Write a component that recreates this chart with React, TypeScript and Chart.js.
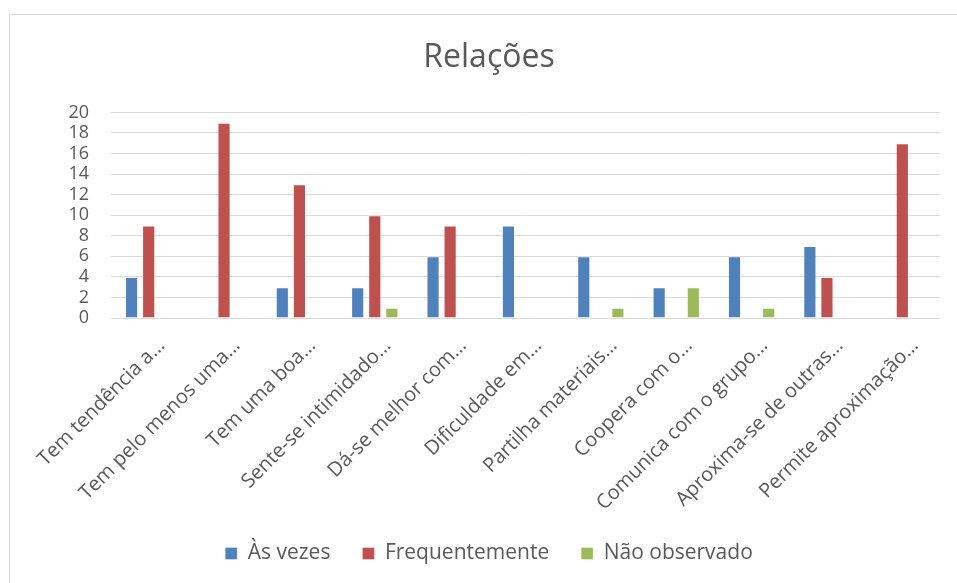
import React, { useEffect, useRef } from "react";
import { Chart, registerables } from "chart.js";

Chart.register(...registerables);

const categories = [
  "Tem tendência a…",
  "Tem pelo menos uma…",
  "Tem uma boa…",
  "Sente-se intimidado…",
  "Dá-se melhor com…",
  "Dificuldade em…",
  "Partilha materiais…",
  "Coopera com o…",
  "Comunica com o grupo…",
  "Aproxima-se de outras…",
  "Permite aproximação…",
];
const asVezes = [4, 0, 3, 3, 6, 9, 6, 3, 6, 7, 0];
const frequentemente = [9, 19, 13, 10, 9, 0, 0, 0, 0, 4, 17];
const naoObservado = [0, 0, 0, 1, 0, 0, 1, 3, 1, 0, 0];
const seriesNames = ["Às vezes", "Frequentemente", "Não observado"];
const titleText = "Relações";

const FONT = "'Open Sans', 'Noto Sans', sans-serif";
const GRAY = "#595959";

export default function App() {
  const ref = useRef<HTMLCanvasElement | null>(null);
  useEffect(() => {
    if (!ref.current) return;
    const chart = new Chart(ref.current, {
      type: "bar",
      data: {
        labels: categories,
        datasets: [
          { label: seriesNames[0], data: asVezes, backgroundColor: "#4F81BD", borderColor: "rgba(255,255,255,0.35)", borderWidth: 1 },
          { label: seriesNames[1], data: frequentemente, backgroundColor: "#C0504D", borderColor: "rgba(255,255,255,0.35)", borderWidth: 1 },
          { label: seriesNames[2], data: naoObservado, backgroundColor: "#9BBB59", borderColor: "rgba(255,255,255,0.35)", borderWidth: 1 },
        ],
      },
      options: {
        animation: false,
        responsive: false,
        maintainAspectRatio: false,
        layout: { padding: { left: 0, right: 0, top: 3, bottom: 9 } },
        datasets: { bar: { categoryPercentage: 0.68, barPercentage: 0.77 } },
        plugins: {
          title: {
            display: true,
            text: titleText,
            color: GRAY,
            font: { family: FONT, size: 32, weight: "normal" },
            padding: { top: 36, bottom: 35 },
          },
          legend: {
            position: "bottom",
            labels: {
              color: GRAY,
              font: { family: FONT, size: 21 },
              boxWidth: 12,
              boxHeight: 12,
              padding: 32,
            },
          },
          tooltip: { enabled: false },
        },
        scales: {
          x: {
            grid: { display: false },
            border: { display: false },
            ticks: {
              color: GRAY,
              font: { family: FONT, size: 20 },
              minRotation: 45,
              maxRotation: 45,
              autoSkip: false,
              padding: 8,
              labelOffset: 13,
            },
            afterFit: (s: any) => {
              s.height = 193;
              s.paddingLeft = 0;
              s.paddingRight = 38;
            },
          },
          y: {
            min: 0,
            max: 20,
            grid: { color: "#d9d9d9", lineWidth: 1, drawTicks: false },
            border: { display: false },
            ticks: {
              stepSize: 2,
              autoSkip: false,
              color: GRAY,
              font: { family: FONT, size: 18 },
              padding: 22,
            },
            afterFit: (s: any) => {
              s.width = 111;
              s.paddingTop = 0;
              s.paddingBottom = 0;
            },
          },
        },
      },
    });
    return () => chart.destroy();
  }, []);
  return (
    <div style={{ position: "fixed", left: 0, top: 0, width: 957, height: 583, background: "#fff", overflow: "hidden" }}>
      <div
        style={{
          position: "absolute",
          left: 9,
          top: 14,
          width: 980,
          height: 620,
          border: "1px solid #d9d9d9",
          boxSizing: "border-box",
        }}
      />
      <canvas ref={ref} width={978} height={583} style={{ position: "absolute", left: 0, top: 0 }} />
    </div>
  );
}
